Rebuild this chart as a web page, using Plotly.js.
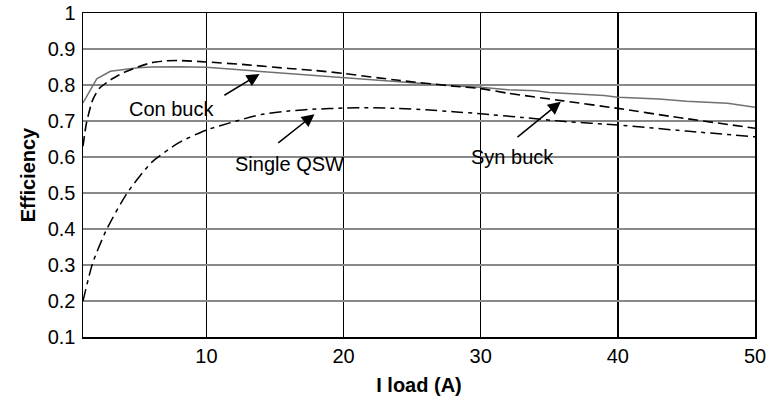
<!DOCTYPE html>
<html>
<head>
<meta charset="utf-8">
<script src="https://cdn.plot.ly/plotly-3.0.1.min.js"></script>
<style>html,body{margin:0;padding:0;background:#fff;}#chart{width:768px;height:396px;}</style>
</head>
<body>
<div id="chart"></div>
<script>
// Load current I (A)
const conBuckX = [1,2,3,4,5,6,8,10,11,12,14,15,17,18,19,21,23,25,28,30,32,34,35,37,39,40,43,45,48,50];
const conBuckY = [0.75,0.817,0.838,0.843,0.848,0.850,0.851,0.849,0.846,0.844,0.839,0.834,0.828,0.827,0.822,0.816,0.811,0.806,0.798,0.794,0.787,0.784,0.779,0.776,0.771,0.766,0.761,0.755,0.749,0.738];

const synBuckX = [1,1.25,1.7,2.2,3,4,5,6,7,8,10,13,16,18,20,24,28,30,32,36,40,44,50];
const synBuckY = [0.63,0.694,0.758,0.791,0.814,0.835,0.85,0.862,0.867,0.868,0.864,0.856,0.846,0.84,0.832,0.813,0.797,0.79,0.777,0.756,0.735,0.712,0.68];

const qswX = [1,1.7,2.7,4.2,6,8,10,12,14,16,18,20,22,24,26,28,30,33,36,40,45,50];
const qswY = [0.2,0.305,0.397,0.499,0.585,0.64,0.675,0.698,0.718,0.728,0.733,0.736,0.737,0.735,0.731,0.726,0.72,0.71,0.699,0.689,0.672,0.656];

const xTicks = [10,20,30,40,50];
const yTicks = [0.1,0.2,0.3,0.4,0.5,0.6,0.7,0.8,0.9,1];
const yTickText = ['0.1','0.2','0.3','0.4','0.5','0.6','0.7','0.8','0.9','1'];

const labels = ['Con buck','Single QSW','Syn buck'];

const FONT = 'Liberation Sans, Arial, Helvetica, sans-serif';

const traces = [
  {x: conBuckX, y: conBuckY, mode: 'lines', name: labels[0],
   line: {color: '#707070', width: 1.5}},
  {x: synBuckX, y: synBuckY, mode: 'lines', name: labels[2],
   line: {color: '#000', width: 1.6, dash: '10px,5px', shape: 'spline', smoothing: 0.6}},
  {x: qswX, y: qswY, mode: 'lines', name: labels[1],
   line: {color: '#000', width: 1.5, dash: '12px,5px,4px,5px', shape: 'spline', smoothing: 0.6}}
];

function arrow(hx, hy, tx, ty) {
  return {x: hx, y: hy, ax: tx, ay: ty, xref: 'x', yref: 'y', axref: 'x', ayref: 'y',
          text: '', showarrow: true, arrowhead: 2, arrowsize: 1.7, arrowwidth: 1.5, arrowcolor: '#000'};
}
function label(t, x, y) {
  return {x: x, y: y, xref: 'x', yref: 'y', text: t, showarrow: false,
          xanchor: 'center', yanchor: 'middle', font: {family: FONT, size: 20, color: '#000'}};
}

const layout = {
  width: 768, height: 396,
  margin: {l: 83, r: 13, t: 13, b: 59, pad: 0},
  paper_bgcolor: '#fff', plot_bgcolor: '#fff',
  showlegend: false,
  font: {family: FONT, size: 20, color: '#000'},
  xaxis: {
    range: [1, 50], tickvals: xTicks, ticks: '', ticklabelstandoff: 0,
    showgrid: true, gridcolor: '#000', gridwidth: 1.4,
    showline: true, mirror: true, linecolor: '#000', linewidth: 1.5,
    zeroline: false, tickfont: {family: FONT, size: 20, color: '#000'},
    title: {text: 'I load (A)', font: {family: FONT, size: 20, color: '#000', weight: 'bold'}, standoff: 16}
  },
  yaxis: {
    range: [0.1, 1], tickvals: yTicks, ticktext: yTickText, ticks: '', ticklabelstandoff: 2,
    showgrid: true, gridcolor: '#888', gridwidth: 1.4,
    showline: true, mirror: true, linecolor: '#000', linewidth: 1.5,
    zeroline: false, tickfont: {family: FONT, size: 20, color: '#000'},
    title: {text: 'Efficiency', font: {family: FONT, size: 20, color: '#000', weight: 'bold'}, standoff: 6}
  },
  annotations: [
    arrow(13.87, 0.8306, 11.2, 0.769),
    arrow(17.88, 0.719, 15.13, 0.636),
    arrow(35.84, 0.7536, 32.57, 0.652),
    label(labels[0], 7.46, 0.7325),
    label(labels[1], 16.05, 0.5806),
    label(labels[2], 32.31, 0.60)
  ]
};

Plotly.newPlot('chart', traces, layout, {displayModeBar: false, staticPlot: true});
</script>
</body>
</html>
